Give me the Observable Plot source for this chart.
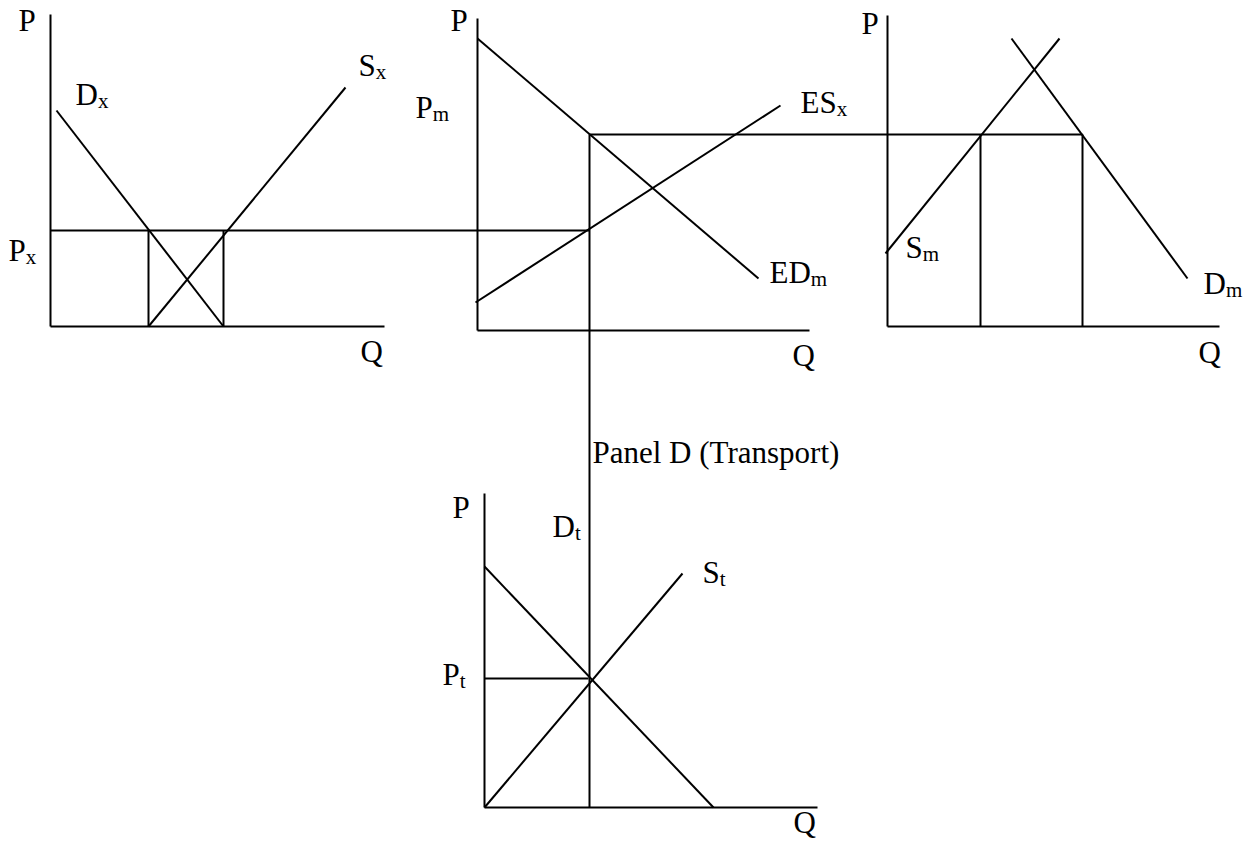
<!DOCTYPE html>
<html>
<head>
<meta charset="utf-8">
<script src="https://cdn.jsdelivr.net/npm/d3@7"></script>
<script src="https://cdn.jsdelivr.net/npm/@observablehq/plot@0.6"></script>
<style>
  html, body { margin: 0; padding: 0; background: #fff; }
  #chart svg { display: block; }
</style>
</head>
<body>
<div id="chart"></div>
<script>
// Diagram drawn in figure units (x to the right, y downward).

// P and Q axes of the four panels
const panelAxes = [
  {x1: 50,  y1: 14,  x2: 50,   y2: 326},
  {x1: 50,  y1: 326, x2: 384,  y2: 326},
  {x1: 477, y1: 18,  x2: 477,  y2: 330},
  {x1: 477, y1: 330, x2: 809,  y2: 330},
  {x1: 887, y1: 15,  x2: 887,  y2: 326},
  {x1: 887, y1: 326, x2: 1219, y2: 326},
  {x1: 484, y1: 493, x2: 484,  y2: 807},
  {x1: 484, y1: 807, x2: 817,  y2: 807}
];

// Supply / demand curves
const curves = [
  {name: "Dx",  x1: 56,  y1: 110, x2: 223,  y2: 326},
  {name: "Sx",  x1: 148, y1: 326, x2: 345,  y2: 87},
  {name: "EDm", x1: 477, y1: 38,  x2: 758,  y2: 278},
  {name: "ESx", x1: 475, y1: 302, x2: 780,  y2: 105},
  {name: "Sm",  x1: 885, y1: 253, x2: 1059, y2: 38},
  {name: "Dm",  x1: 1011, y1: 38, x2: 1187, y2: 278},
  {name: "Dtr", x1: 484, y1: 566, x2: 713,  y2: 807},
  {name: "St",  x1: 484, y1: 807, x2: 682,  y2: 573}
];

// Price lines and quantity drop lines
const guides = [
  {x1: 50,   y1: 230, x2: 589,  y2: 230},
  {x1: 148,  y1: 230, x2: 148,  y2: 326},
  {x1: 223,  y1: 230, x2: 223,  y2: 326},
  {x1: 589,  y1: 134, x2: 1082, y2: 134},
  {x1: 589,  y1: 134, x2: 589,  y2: 807},
  {x1: 980,  y1: 134, x2: 980,  y2: 326},
  {x1: 1082, y1: 134, x2: 1082, y2: 326},
  {x1: 484,  y1: 678, x2: 588,  y2: 678}
];

// Labels ("_" marks the start of a subscript); x = left edge, y = baseline
const labels = [
  {text: "P",   x: 18,   y: 30},
  {text: "D_x", x: 75,   y: 104},
  {text: "S_x", x: 358,  y: 75},
  {text: "P_x", x: 8,    y: 260},
  {text: "Q",   x: 360,  y: 361},
  {text: "P",   x: 450,  y: 30},
  {text: "P_m", x: 415,  y: 117},
  {text: "ES_x", x: 800, y: 112},
  {text: "ED_m", x: 769, y: 282},
  {text: "Q",   x: 792,  y: 365},
  {text: "P",   x: 861,  y: 33},
  {text: "S_m", x: 905,  y: 257},
  {text: "D_m", x: 1203, y: 293},
  {text: "Q",   x: 1198, y: 362},
  {text: "Panel D (Transport)", x: 592, y: 462},
  {text: "P",   x: 452,  y: 517},
  {text: "D_t", x: 552,  y: 536},
  {text: "S_t", x: 702,  y: 582},
  {text: "P_t", x: 442,  y: 684},
  {text: "Q",   x: 793,  y: 832}
];

const W = 1255, H = 844;
const segOpts = {x1: "x1", y1: "y1", x2: "x2", y2: "y2", stroke: "black", strokeWidth: 2};

const svg = Plot.plot({
  width: W,
  height: H,
  margin: 0,
  x: {domain: [0, W], range: [0, W], axis: null},
  y: {domain: [0, H], range: [0, H], axis: null},
  style: {background: "white", fontFamily: "'Liberation Serif', 'Times New Roman', serif", overflow: "visible"},
  marks: [
    Plot.link(panelAxes, segOpts),
    Plot.link(guides, segOpts),
    Plot.link(curves, segOpts),
    Plot.text(labels, {x: "x", y: "y", text: "text", textAnchor: "start", fontSize: 31, fill: "black"})
  ]
});

// Rebuild label text with subscripts and put baseline at y
d3.select(svg).selectAll("g[aria-label='text'] text").each(function () {
  const t = d3.select(this);
  const s = t.text();
  const parts = s.split("_");
  t.attr("y", null).attr("dy", null).text(null);
  t.append("tspan").text(parts[0]);
  if (parts.length > 1) {
    t.append("tspan").attr("font-size", 21).attr("dy", 3).text(parts[1]);
  }
});

document.getElementById("chart").appendChild(svg);
</script>
</body>
</html>
